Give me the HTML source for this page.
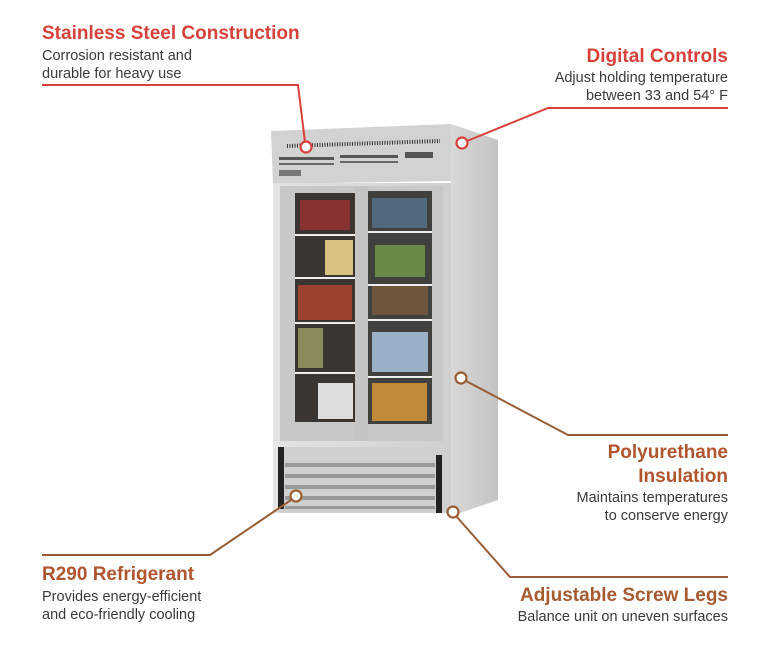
<!DOCTYPE html>
<html><head><meta charset="utf-8"><style>
html,body{margin:0;padding:0;background:#fff;width:770px;height:646px;overflow:hidden}
svg{display:block}
.t{font-family:"Liberation Sans",sans-serif;font-weight:bold;font-size:19px}
.d{font-family:"Liberation Sans",sans-serif;font-size:14.5px;fill:#3a3a3a}
</style></head><body>
<svg width="770" height="646" viewBox="0 0 770 646">
<defs>
<linearGradient id="side" x1="0" x2="1"><stop offset="0" stop-color="#d8d8d8"/><stop offset="1" stop-color="#c4c4c4"/></linearGradient>
<linearGradient id="front" x1="0" x2="1"><stop offset="0" stop-color="#e4e4e4"/><stop offset="1" stop-color="#cfcfcf"/></linearGradient>
</defs>
<!-- fridge -->
<polygon points="451,124 498,140 498,500 451,516" fill="url(#side)"/>
<polygon points="271,131 451,124 451,181 273,184" fill="#d2d2d2"/>
<rect x="273" y="183" width="178" height="330" fill="url(#front)"/>
<line x1="287" y1="146" x2="440" y2="141" stroke="#333" stroke-width="4" stroke-dasharray="1,1.5"/>
<rect x="279" y="157" width="55" height="3" fill="#555"/><rect x="340" y="155" width="58" height="3" fill="#555"/>
<rect x="279" y="163" width="55" height="2" fill="#666"/><rect x="340" y="161" width="58" height="2" fill="#666"/>
<rect x="405" y="152" width="28" height="6" fill="#555"/>
<rect x="279" y="170" width="22" height="6" fill="#777"/>
<rect x="280" y="186" width="163" height="255" fill="#c8c8c8"/>
<rect x="295" y="193" width="60" height="229" fill="#3a3530"/>
<rect x="368" y="191" width="64" height="233" fill="#40403c"/>
<g fill="#a33" opacity=".7"><rect x="300" y="200" width="50" height="30"/><rect x="372" y="198" width="55" height="30" fill="#5a7a9a"/></g>
<g fill="#b5452d" opacity=".8"><rect x="298" y="285" width="54" height="35"/><rect x="372" y="285" width="56" height="30" fill="#7a5a3e"/></g>
<g fill="#8a8a5a"><rect x="298" y="328" width="25" height="40"/><rect x="372" y="332" width="56" height="40" fill="#9ab0c8"/></g>
<g fill="#ddd"><rect x="318" y="383" width="35" height="36"/><rect x="372" y="383" width="55" height="38" fill="#c08a3a"/></g>
<rect x="325" y="240" width="28" height="35" fill="#d8c080"/>
<rect x="375" y="245" width="50" height="32" fill="#6a8a4a"/>
<g stroke="#eee" stroke-width="2"><line x1="295" y1="235" x2="355" y2="235"/><line x1="295" y1="278" x2="355" y2="278"/><line x1="295" y1="323" x2="355" y2="323"/><line x1="295" y1="373" x2="355" y2="373"/><line x1="368" y1="232" x2="432" y2="232"/><line x1="368" y1="285" x2="432" y2="285"/><line x1="368" y1="320" x2="432" y2="320"/><line x1="368" y1="377" x2="432" y2="377"/></g>
<rect x="355" y="186" width="13" height="255" fill="#c4c4c4"/>
<rect x="278" y="447" width="167" height="66" fill="#d0d0d0"/>
<rect x="278" y="447" width="6" height="62" fill="#222"/><rect x="436" y="455" width="6" height="58" fill="#222"/>
<g fill="#999"><rect x="285" y="463" width="150" height="4"/><rect x="285" y="474" width="150" height="4"/><rect x="285" y="485" width="150" height="4"/><rect x="285" y="496" width="150" height="4"/><rect x="285" y="506" width="150" height="3"/></g>
<!-- callouts -->
<g fill="none" stroke-width="2">
<polyline points="42,85 298,85 305,142" stroke="#d8413a"/>
<polyline points="728,108 548,108 467,141" stroke="#d8413a"/>
<polyline points="466,381 568,435 728,435" stroke="#9a5c34"/>
<polyline points="456,516 510,577 728,577" stroke="#9a5c34"/>
<polyline points="291,500 210,555 42,555" stroke="#9a5c34"/>
</g>
<g fill="#fff" stroke-width="2.2">
<circle cx="306" cy="147" r="5.5" stroke="#d8413a"/>
<circle cx="462" cy="143" r="5.5" stroke="#d8413a"/>
<circle cx="461" cy="378" r="5.5" stroke="#9a5c34"/>
<circle cx="453" cy="512" r="5.5" stroke="#9a5c34"/>
<circle cx="296" cy="496" r="5.5" stroke="#9a5c34"/>
</g>
<text class="t" x="42" y="39" fill="#d8413a">Stainless Steel Construction</text>
<text class="d" x="42" y="60">Corrosion resistant and</text>
<text class="d" x="42" y="78">durable for heavy use</text>
<text class="t" x="728" y="62" fill="#d8413a" text-anchor="end">Digital Controls</text>
<text class="d" x="728" y="82" text-anchor="end">Adjust holding temperature</text>
<text class="d" x="728" y="100" text-anchor="end">between 33 and 54° F</text>
<text class="t" x="728" y="458" fill="#b0552e" text-anchor="end">Polyurethane</text>
<text class="t" x="728" y="482" fill="#b0552e" text-anchor="end">Insulation</text>
<text class="d" x="728" y="502" text-anchor="end">Maintains temperatures</text>
<text class="d" x="728" y="520" text-anchor="end">to conserve energy</text>
<text class="t" x="728" y="601" fill="#a65a30" text-anchor="end">Adjustable Screw Legs</text>
<text class="d" x="728" y="621" text-anchor="end">Balance unit on uneven surfaces</text>
<text class="t" x="42" y="580" fill="#b0552e">R290 Refrigerant</text>
<text class="d" x="42" y="601">Provides energy-efficient</text>
<text class="d" x="42" y="619">and eco-friendly cooling</text>
</svg>
</body></html>
